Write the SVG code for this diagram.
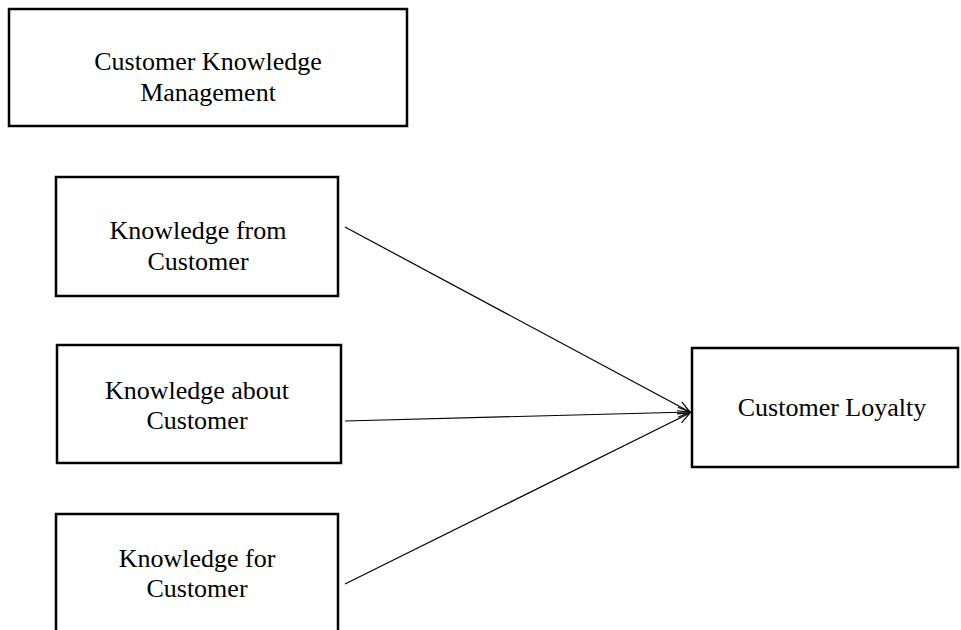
<svg xmlns="http://www.w3.org/2000/svg" width="961" height="630" viewBox="0 0 961 630">
<defs>
<style>
.box{fill:#fff;stroke:#000;stroke-width:2.5}
.t{font-family:"Liberation Serif","Times New Roman",serif;font-size:26px;fill:#000;text-anchor:middle}
.c{stroke:#000;stroke-width:1.2;fill:none}
</style>
<marker id="arr" markerWidth="14" markerHeight="12" refX="13" refY="6" orient="auto" markerUnits="userSpaceOnUse">
<path d="M1,1 L13,6 L1,11" fill="none" stroke="#000" stroke-width="1.2"/>
</marker>
</defs>
<rect width="961" height="630" fill="#fff"/>
<g id="ckm">
<rect class="box" x="9" y="9" width="398" height="117"/>
<text class="t" x="208" y="70">Customer Knowledge</text>
<text class="t" x="208" y="101">Management</text>
</g>
<g id="kfrom">
<rect class="box" x="56" y="177" width="282" height="119"/>
<text class="t" x="198" y="239">Knowledge from</text>
<text class="t" x="198" y="270">Customer</text>
</g>
<g id="kabout">
<rect class="box" x="57" y="345" width="284" height="118"/>
<text class="t" x="197" y="399">Knowledge about</text>
<text class="t" x="197" y="429">Customer</text>
</g>
<g id="kfor">
<rect class="box" x="56" y="514" width="282" height="130"/>
<text class="t" x="197" y="567">Knowledge for</text>
<text class="t" x="197" y="597">Customer</text>
</g>
<g id="loyalty">
<rect class="box" x="692" y="348" width="266" height="119"/>
<text class="t" x="832" y="416">Customer Loyalty</text>
</g>
<g id="connectors">
<line class="c" x1="345" y1="227" x2="690" y2="412" marker-end="url(#arr)"/>
<line class="c" x1="345" y1="421" x2="690" y2="412" marker-end="url(#arr)"/>
<line class="c" x1="345" y1="584" x2="690" y2="413" marker-end="url(#arr)"/>
</g>
</svg>
